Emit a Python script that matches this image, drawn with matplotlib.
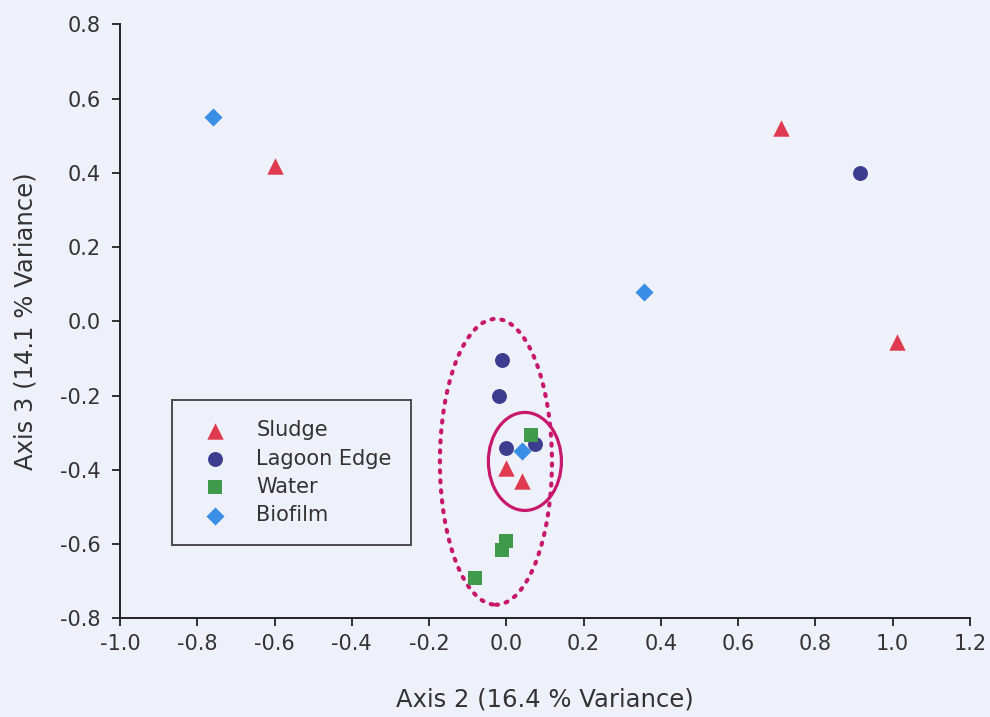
import matplotlib
matplotlib.use("Agg")
import matplotlib.pyplot as plt
from matplotlib.patches import Ellipse

# ---- data ----
sludge_x = [-0.60, 0.71, 1.01, 0.00, 0.04]
sludge_y = [0.42, 0.52, -0.055, -0.395, -0.43]
lagoon_x = [0.915, -0.01, -0.02, 0.00, 0.075]
lagoon_y = [0.40, -0.105, -0.20, -0.34, -0.33]
water_x = [0.065, 0.00, -0.01, -0.08]
water_y = [-0.305, -0.59, -0.615, -0.69]
biofilm_x = [-0.76, 0.355, 0.04]
biofilm_y = [0.55, 0.08, -0.35]

series = ["Sludge", "Lagoon Edge", "Water", "Biofilm"]
xticks = [-1.0, -0.8, -0.6, -0.4, -0.2, 0.0, 0.2, 0.4, 0.6, 0.8, 1.0, 1.2]
yticks = [-0.8, -0.6, -0.4, -0.2, 0.0, 0.2, 0.4, 0.6, 0.8]

# ellipses (center x, center y, width, height)
dotted_ell = (-0.027, -0.378, 0.29, 0.77)
solid_ell = (0.048, -0.377, 0.189, 0.264)

bg = "#eef1f9"
txt = "#333333"

fig = plt.figure(figsize=(9.9, 7.17), dpi=100, facecolor=bg)
ax = fig.add_axes([0.1212, 0.1374, 0.8586, 0.8285], facecolor=bg)

ax.scatter(sludge_x, sludge_y, marker="^", s=140, color="#e03a50", label=series[0], zorder=3, linewidths=0)
ax.scatter(lagoon_x, lagoon_y, marker="o", s=115, color="#3d3d8f", label=series[1], zorder=3, linewidths=0)
ax.scatter(water_x, water_y, marker="s", s=105, color="#3f9a4c", label=series[2], zorder=3, linewidths=0)
ax.scatter(biofilm_x, biofilm_y, marker="D", s=85, color="#3a8ee6", label=series[3], zorder=4, linewidths=0)

mag = "#c8186e"
e1 = Ellipse(dotted_ell[:2], dotted_ell[2], dotted_ell[3], fill=False, edgecolor=mag,
             linewidth=3.0, linestyle=(0, (0.5, 1.9)), capstyle="round", zorder=2)
e2 = Ellipse(solid_ell[:2], solid_ell[2], solid_ell[3], fill=False, edgecolor=mag,
             linewidth=2.3, zorder=5)
ax.add_patch(e1)
ax.add_patch(e2)

ax.set_xlim(-1.0, 1.2)
ax.set_ylim(-0.8, 0.8)
ax.set_xticks(xticks)
ax.set_yticks(yticks)
ax.set_xticklabels([f"{v:.1f}" for v in xticks])
ax.set_yticklabels([f"{v:.1f}" for v in yticks])
for s in ["top", "right"]:
    ax.spines[s].set_visible(False)
for s in ["left", "bottom"]:
    ax.spines[s].set_color("#222222")
    ax.spines[s].set_linewidth(1.4)
ax.tick_params(axis="both", direction="out", length=6, width=1.3, colors="#222222",
               labelsize=15, labelcolor=txt)
ax.tick_params(axis="y", pad=8)
ax.tick_params(axis="x", pad=5)

ax.set_xlabel("Axis 2 (16.4 % Variance)", fontsize=17.5, color=txt, labelpad=24)
ax.set_ylabel("Axis 3 (14.1 % Variance)", fontsize=17.5, color=txt, labelpad=16)

leg = ax.legend(loc="lower left", bbox_to_anchor=(0.061, 0.1237), fontsize=15,
                frameon=True, fancybox=False, edgecolor="#222222", facecolor=bg,
                borderpad=0.95, labelspacing=0.4, handletextpad=0.9, handlelength=2.2,
                borderaxespad=0)
leg.get_frame().set_linewidth(1.4)
for t in leg.get_texts():
    t.set_color(txt)

fig.savefig("out.png", dpi=100, facecolor=bg)
